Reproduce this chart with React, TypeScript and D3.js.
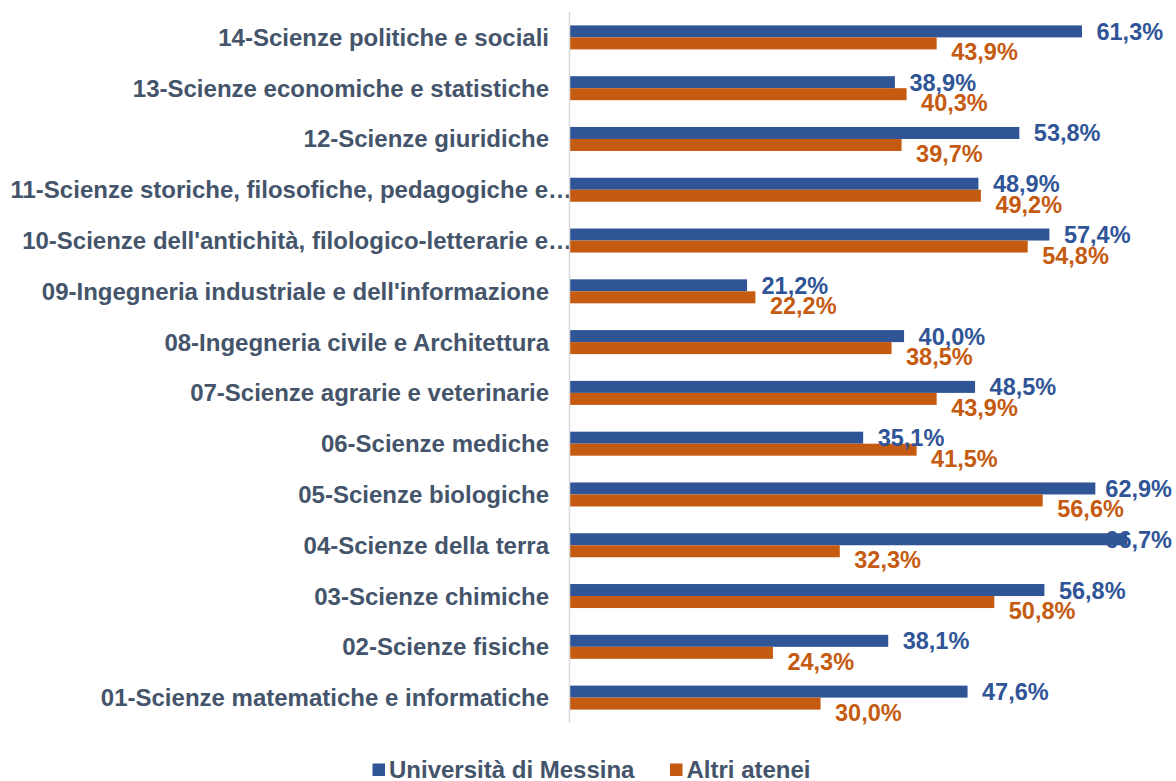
import React from "react";
import * as d3 from "d3";

const categories = [
  "14-Scienze politiche e sociali",
  "13-Scienze economiche e statistiche",
  "12-Scienze giuridiche",
  "11-Scienze storiche, filosofiche, pedagogiche e…",
  "10-Scienze dell'antichità, filologico-letterarie e…",
  "09-Ingegneria industriale e dell'informazione",
  "08-Ingegneria civile e Architettura",
  "07-Scienze agrarie e veterinarie",
  "06-Scienze mediche",
  "05-Scienze biologiche",
  "04-Scienze della terra",
  "03-Scienze chimiche",
  "02-Scienze fisiche",
  "01-Scienze matematiche e informatiche",
];
const unime = [61.3, 38.9, 53.8, 48.9, 57.4, 21.2, 40.0, 48.5, 35.1, 62.9, 66.7, 56.8, 38.1, 47.6];
const altri = [43.9, 40.3, 39.7, 49.2, 54.8, 22.2, 38.5, 43.9, 41.5, 56.6, 32.3, 50.8, 24.3, 30.0];
const seriesNames = ["Università di Messina", "Altri atenei"];

const W = 1176;
const H = 781;
const BLUE = "#2F5597";
const ORANGE = "#C55A11";
const TEXT = "#44546A";
const FONT = "'Liberation Sans', Arial, sans-serif";

const fmt = (v: number) => v.toFixed(1).replace(".", ",") + "%";

function measure(text: string, size: number) {
  if (typeof document === "undefined") return text.length * size * 0.55;
  const c = document.createElement("canvas");
  const ctx = c.getContext("2d")!;
  ctx.font = `bold ${size}px ${FONT}`;
  return ctx.measureText(text).width;
}

export default function App() {
  const x = d3.scaleLinear().domain([0, 70]).range([570, 570 + 8.352 * 70]);
  const y = d3.scaleBand<string>().domain(categories).range([12, 723]).padding(0);
  const barH = 12;
  const labelSize = 23.5;
  const catSize = 24;
  const rightLimit = 1172;

  const labelX = (v: number) => {
    const end = x(v);
    const w = measure(fmt(v), labelSize);
    return Math.min(end + 14.5, rightLimit - w);
  };

  return (
    <svg
      width={W}
      height={H}
      style={{ position: "absolute", left: 0, top: 0, background: "#fff" }}
      fontFamily={FONT}
      fontWeight="bold"
    >
      <rect x={0} y={0} width={W} height={H} fill="#fff" />
      {categories.map((c, i) => {
        const cy = (y(c) as number) + y.bandwidth() / 2;
        const truncated = c.endsWith("…");
        return (
          <g key={c}>
            <rect x={x(0)} y={cy - barH} width={x(unime[i]) - x(0)} height={barH} fill={BLUE} />
            <rect x={x(0)} y={cy} width={x(altri[i]) - x(0)} height={barH} fill={ORANGE} />
            <text
              x={truncated ? x(0) + 2 : x(0) - 21}
              y={cy + 8.5}
              textAnchor="end"
              fontSize={catSize}
              fill={TEXT}
            >
              {c}
            </text>
            <text x={labelX(unime[i])} y={cy - barH / 2 + 8.5} fontSize={labelSize} fill={BLUE}>
              {fmt(unime[i])}
            </text>
            <text x={labelX(altri[i])} y={cy + 23} fontSize={labelSize} fill={ORANGE}>
              {fmt(altri[i])}
            </text>
          </g>
        );
      })}
      <line x1={569.5} x2={569.5} y1={12} y2={723} stroke="#D9D9D9" strokeWidth={1.5} />
      <g>
        <rect x={372.5} y={763.5} width={12.5} height={12.5} fill={BLUE} />
        <text x={389} y={777.5} fontSize={catSize} fill={TEXT}>
          {seriesNames[0]}
        </text>
        <rect x={670} y={763.5} width={12.5} height={12.5} fill={ORANGE} />
        <text x={686.5} y={777.5} fontSize={catSize} fill={TEXT}>
          {seriesNames[1]}
        </text>
      </g>
    </svg>
  );
}
